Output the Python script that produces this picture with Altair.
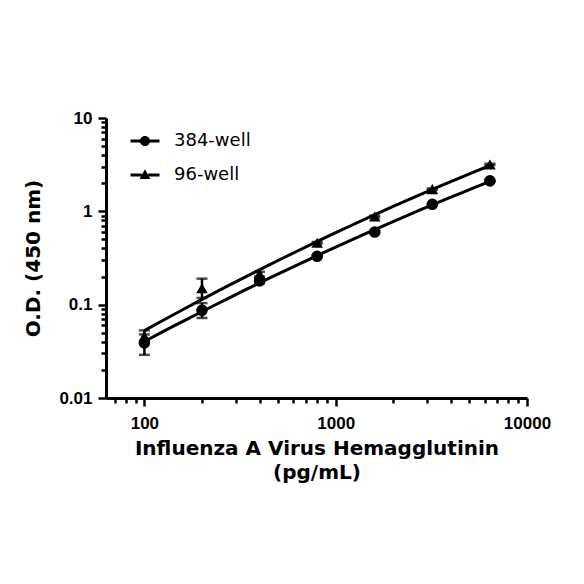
import altair as alt
import pandas as pd

conc = [100, 200, 400, 800, 1600, 3200, 6400]
series_names = ["384-well", "96-well"]
od_384 = [0.039, 0.087, 0.18, 0.33, 0.60, 1.19, 2.12]
lo_384 = [0.029, 0.072, 0.17, 0.32, 0.58, 1.16, 2.08]
hi_384 = [0.048, 0.104, 0.19, 0.34, 0.62, 1.22, 2.16]
od_96 = [0.046, 0.15, 0.215, 0.46, 0.88, 1.73, 3.18]
lo_96 = [0.040, 0.118, 0.20, 0.45, 0.86, 1.70, 3.12]
hi_96 = [0.053, 0.19, 0.225, 0.47, 0.90, 1.76, 3.24]

x_major = [100, 1000, 10000]
x_minor = [70, 80, 90, 200, 300, 400, 500, 600, 700, 800, 900,
           2000, 3000, 4000, 5000, 6000, 7000, 8000, 9000]
y_major = [0.01, 0.1, 1, 10]
y_minor = [0.02, 0.03, 0.04, 0.05, 0.06, 0.07, 0.08, 0.09,
           0.2, 0.3, 0.4, 0.5, 0.6, 0.7, 0.8, 0.9,
           2, 3, 4, 5, 6, 7, 8, 9]

rows = []
for name, od, lo, hi in [("384-well", od_384, lo_384, hi_384),
                         ("96-well", od_96, lo_96, hi_96)]:
    for c, v, l, h in zip(conc, od, lo, hi):
        rows.append({"conc": c, "od": v, "lo": l, "hi": h, "series": name})
df = pd.DataFrame(rows)

FONT_T = "DejaVu Sans"
FONT_L = "Liberation Sans"

def major_test(vals):
    return "indexof([" + ",".join(repr(v) for v in vals) + "], datum.value) >= 0"

xscale = alt.Scale(type="log", domain=[63, 10000], nice=False)
yscale = alt.Scale(type="log", domain=[0.01, 10], nice=False)

xaxis = alt.Axis(
    values=x_major + x_minor,
    format="~g",
    labelExpr=f"{major_test(x_major)} ? datum.label : ''",
    tickSize={"condition": {"test": major_test(x_major), "value": 8}, "value": 5},
    title=["Influenza A Virus Hemagglutinin", "(pg/mL)"],
    titleLineHeight=24,
    titlePadding=7,
    labelPadding=9,
    labelFlush=False,
    labelOverlap=False,
)
yaxis = alt.Axis(
    values=y_major + y_minor,
    format="~g",
    labelExpr=f"{major_test(y_major)} ? datum.label : ''",
    tickSize={"condition": {"test": major_test(y_major), "value": 8}, "value": 5},
    title="O.D. (450 nm)",
    titlePadding=15,
    labelPadding=6,
    labelOverlap=False,
)

base = alt.Chart(df)

x = alt.X("conc:Q", scale=xscale, axis=xaxis)
y = alt.Y("od:Q", scale=yscale, axis=yaxis)

fit = base.transform_calculate(
    lx="log(datum.conc)/LN10", ly="log(datum.od)/LN10"
).transform_regression(
    "lx", "ly", method="poly", order=2, groupby=["series"]
).transform_calculate(
    cx="pow(10, datum.lx)", cy="pow(10, datum.ly)"
).mark_line(color="black", strokeWidth=3).encode(
    x=alt.X("cx:Q", scale=xscale, axis=xaxis),
    y=alt.Y("cy:Q", scale=yscale, axis=yaxis),
    detail="series:N",
)

err = base.mark_rule(color="black", strokeWidth=2.5).encode(
    x=x, y=alt.Y("lo:Q", scale=yscale, axis=yaxis), y2="hi:Q"
)
cap_lo = base.mark_tick(color="black", thickness=2.5, size=11, orient="horizontal").encode(
    x=x, y=alt.Y("lo:Q", scale=yscale, axis=yaxis)
)
cap_hi = base.mark_tick(color="black", thickness=2.5, size=11, orient="horizontal").encode(
    x=x, y=alt.Y("hi:Q", scale=yscale, axis=yaxis)
)

pts = base.mark_point(filled=True, color="black", opacity=1, size=135).encode(
    x=x, y=y,
    shape=alt.Shape("series:N",
                    scale=alt.Scale(domain=series_names, range=["circle", "triangle-up"]),
                    legend=None),
)

# legend glyphs: filled bar segments either side of the marker
legend_paths = [
    "M-2,-0.2H-0.6V0.2H-2ZM0.6,-0.2H2V0.2H0.6Z"
    "M0.7,0A0.7,0.7,0,1,1,-0.7,0A0.7,0.7,0,1,1,0.7,0Z",
    "M-2,-0.2H-0.44V0.2H-2ZM0.44,-0.2H2V0.2H0.44Z"
    "M0,-0.8L0.75,0.55H-0.75Z",
]
leg = base.transform_filter("false").mark_point(
    filled=True, color="black"
).encode(
    x=x, y=y,
    shape=alt.Shape("series:N",
                    scale=alt.Scale(domain=series_names, range=legend_paths),
                    legend=alt.Legend(
                        title=None, orient="none", legendX=30, legendY=14,
                        symbolSize=210, symbolFillColor="black",
                        symbolOpacity=1,
                        labelFont=FONT_T, labelFontSize=18, labelColor="black",
                        labelOffset=20, rowPadding=16, padding=0,
                    )),
)

chart = alt.layer(fit, err, cap_lo, cap_hi, pts, leg).resolve_scale(
    shape="independent"
).properties(
    width=421, height=280,
    autosize=alt.AutoSizeParams(type="none"),
    padding={"left": 98, "top": 110, "right": 49, "bottom": 178},
    background="white",
).configure_view(stroke=None).configure_axis(
    grid=False,
    domainColor="black", domainWidth=3,
    tickColor="black", tickWidth=2.5,
    labelFont=FONT_L, labelFontWeight="bold", labelFontSize=17, labelColor="black",
    titleFont=FONT_T, titleFontWeight="bold", titleFontSize=20, titleColor="black",
)

chart.save("out.html", embed_options={"renderer": "svg", "actions": False})
